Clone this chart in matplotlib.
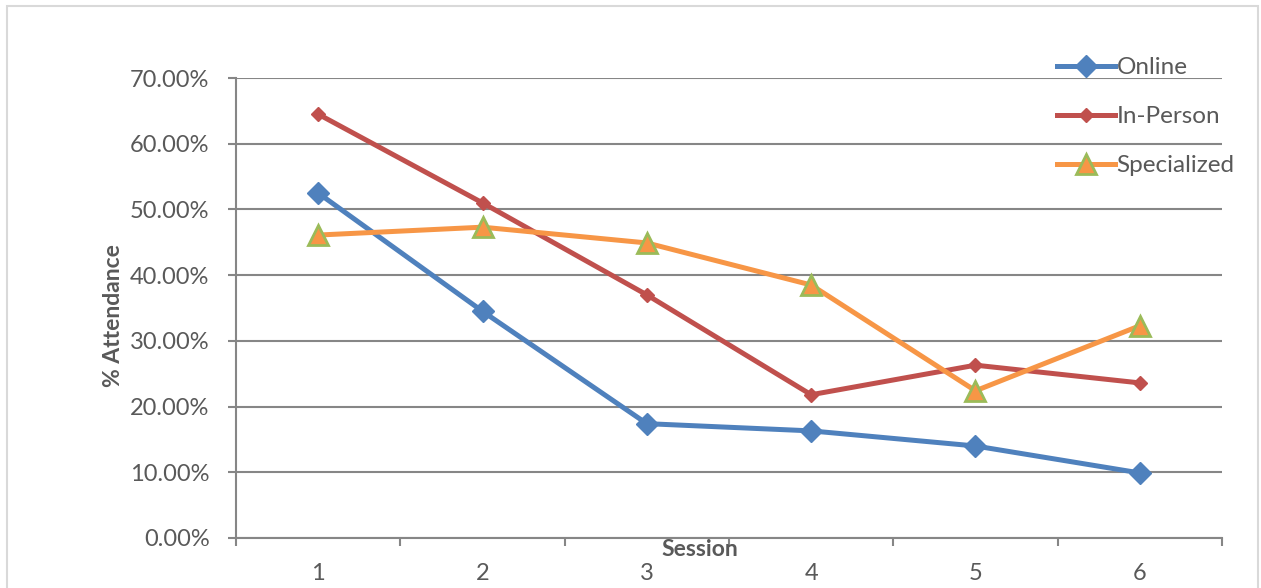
import matplotlib
matplotlib.use("Agg")
import matplotlib.pyplot as plt
from matplotlib.patches import Rectangle
from matplotlib.ticker import FuncFormatter, FixedLocator

sessions = [1, 2, 3, 4, 5, 6]
online = [0.525, 0.345, 0.174, 0.163, 0.140, 0.099]
in_person = [0.645, 0.510, 0.370, 0.218, 0.263, 0.236]
specialized = [0.461, 0.473, 0.449, 0.385, 0.224, 0.323]

plt.rcParams['font.family'] = ['Lato', 'DejaVu Sans']
grey = '#868686'
txt = '#595959'

fig = plt.figure(figsize=(12.61, 5.88), dpi=100)
ax = fig.add_axes([236 / 1261, 1 - 538 / 588, 986 / 1261, 460 / 588])

# outer chart frame (bottom edge falls off the image)
fig.patches.append(Rectangle((7 / 1261, -0.05), 1251 / 1261, 1.05 - 6 / 588,
                             transform=fig.transFigure, fill=False,
                             edgecolor='#D9D9D9', linewidth=1.5))

ax.plot(sessions, online, color='#4F81BD', lw=3.6, marker='D', ms=11,
        label='Online', zorder=3)
ax.plot(sessions, in_person, color='#C0504D', lw=3.6, marker='D', ms=7.5,
        label='In-Person', zorder=3)
ax.plot(sessions, specialized, color='#F79646', lw=3.6, marker='^', ms=14,
        markerfacecolor='#F79646', markeredgecolor='#9BBB59', mew=2,
        label='Specialized', zorder=4)

ax.set_xlim(0.5, 6.5)
ax.set_ylim(0, 0.7)
ax.set_yticks([i / 10 for i in range(8)])
ax.yaxis.set_major_formatter(FuncFormatter(lambda v, p: f'{v * 100:.2f}%'))
ax.grid(axis='y', color=grey, lw=1.5)
ax.set_axisbelow(True)

ax.xaxis.set_major_locator(FixedLocator([0.5 + i for i in range(7)]))
ax.xaxis.set_minor_locator(FixedLocator(sessions))
ax.set_xticklabels([], minor=False)
ax.set_xticklabels([str(s) for s in sessions], minor=True)
ax.tick_params(axis='x', which='major', length=6, width=1.5, color=grey)
ax.tick_params(axis='x', which='minor', length=0, pad=18, labelsize=17, labelcolor=txt)
ax.tick_params(axis='y', length=6, width=1.5, color=grey, pad=13,
               labelsize=17, labelcolor=txt)

for s in ['top', 'right']:
    ax.spines[s].set_visible(False)
for s in ['left', 'bottom']:
    ax.spines[s].set_color(grey)
    ax.spines[s].set_linewidth(1.5)

ax.text(0.4706, -0.024, 'Session', transform=ax.transAxes, ha='center', va='center',
        fontsize=16.5, fontweight='bold', color=txt)
ax.text(-0.1247, 0.483, '% Attendance', transform=ax.transAxes, ha='center', va='center',
        rotation=90, fontsize=16.5, fontweight='bold', color=txt)

ax.legend(loc='upper left', bbox_to_anchor=(1045 / 1261, 1 - 45 / 588),
          bbox_transform=fig.transFigure, frameon=False, fontsize=17.5,
          labelcolor=txt, handlelength=2.4, handletextpad=0.05, labelspacing=1.15,
          borderpad=0, markerscale=1.0)

fig.savefig('out.png', dpi=100)
